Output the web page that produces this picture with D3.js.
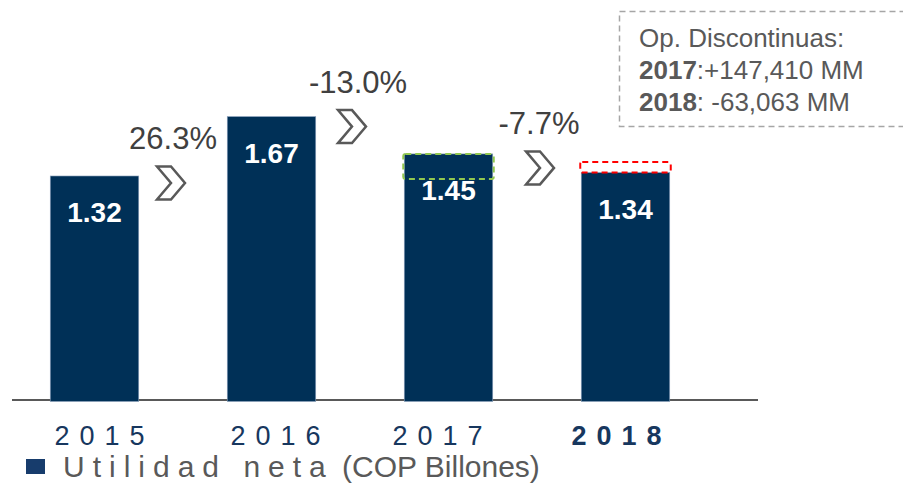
<!DOCTYPE html>
<html>
<head>
<meta charset="utf-8">
<script src="https://cdn.jsdelivr.net/npm/d3@7"></script>
<style>
  html, body { margin: 0; padding: 0; background: #ffffff; }
  svg { display: block; font-family: "Liberation Sans", Arial, Helvetica, sans-serif; }
</style>
</head>
<body>
<svg id="chart" width="903" height="492"></svg>
<script>
// ---- data ----
const years = ["2015", "2016", "2017", "2018"];
const netIncome = [1.32, 1.67, 1.45, 1.34];          // COP billones
const discontinued = [0, 0, 0.147410, -0.063063];     // Op. discontinuas (billones)
const growthLabels = ["26.3%", "-13.0%", "-7.7%"];
const boldYear = "2018";
const noteTitle = "Op. Discontinuas:";
const noteLines = [
  { year: "2017", text: ":+147,410 MM" },
  { year: "2018", text: ": -63,063 MM" }
];
const legendMain = "Utilidad neta";
const legendUnit = "(COP Billones)";

// ---- layout (not data) ----
const chevronDx = [-12, -8, 3];
const chevronDy = [7, 10, 14];
const growthDx = [-10, -2, 2];
const yearDx = [10, 9, -6, -4];

const svg = d3.select("#chart");
const baseY = 400;

const x = d3.scaleBand().domain(years).range([6, 714]).paddingInner(0.5).paddingOuter(0.25);
const y = d3.scaleLinear().domain([0, 2.357]).range([baseY, 0]);

// axis line
svg.append("line")
  .attr("x1", 12).attr("x2", 758)
  .attr("y1", baseY).attr("y2", baseY)
  .attr("stroke", "#595959").attr("stroke-width", 2);

// bars
svg.selectAll("rect.bar").data(years).enter().append("rect")
  .attr("class", "bar")
  .attr("x", d => x(d))
  .attr("width", x.bandwidth())
  .attr("y", (d, i) => y(netIncome[i]))
  .attr("height", (d, i) => y(0) - y(netIncome[i]) + 1.5)
  .attr("fill", "#003057")
  .attr("stroke", "#8ea3bd").attr("stroke-width", 0.6);

// discontinued operations boxes
years.forEach((yr, i) => {
  const dv = discontinued[i];
  if (!dv) return;
  let top, bot;
  if (dv > 0) { top = y(netIncome[i]); bot = y(netIncome[i] - dv); }
  else { top = y(netIncome[i] - dv); bot = y(netIncome[i]); }
  svg.append("rect")
    .attr("x", x(yr) - 1)
    .attr("y", top)
    .attr("width", x.bandwidth() + 2)
    .attr("height", bot - top)
    .attr("rx", 2)
    .attr("fill", "none")
    .attr("stroke", dv > 0 ? "#92c84f" : "#ff0000")
    .attr("stroke-width", 2)
    .attr("stroke-dasharray", "6,4");
});

// value labels
svg.selectAll("text.val").data(years).enter().append("text")
  .attr("class", "val")
  .attr("x", d => x(d) + x.bandwidth() / 2)
  .attr("y", (d, i) => y(netIncome[i]) + 46)
  .attr("text-anchor", "middle")
  .attr("fill", "#ffffff")
  .attr("font-weight", "bold")
  .attr("font-size", 28)
  .text((d, i) => netIncome[i].toFixed(2));

// chevrons and growth labels
const cw = 28, ch = 33;
growthLabels.forEach((g, i) => {
  const midX = (x(years[i]) + x.bandwidth() + x(years[i + 1])) / 2;
  const cx = midX + chevronDx[i];
  const cy = y(netIncome[i]) + chevronDy[i];
  const x0 = cx - cw / 2, y0 = cy - ch / 2;
  const pts = [[0, 0], [14, 0], [28, 16.5], [14, 33], [0, 33], [14, 16.5]]
    .map(p => [x0 + p[0], y0 + p[1]]);
  svg.append("path")
    .attr("d", d3.line()(pts) + "Z")
    .attr("fill", "#ffffff")
    .attr("stroke", "#595959")
    .attr("stroke-width", 2.5)
    .attr("stroke-linejoin", "miter");
  svg.append("text")
    .attr("x", midX + growthDx[i])
    .attr("y", cy - 34)
    .attr("text-anchor", "middle")
    .attr("fill", "#404040")
    .attr("font-size", 31)
    .text(g);
});

// year labels
svg.selectAll("text.yr").data(years).enter().append("text")
  .attr("class", "yr")
  .attr("x", (d, i) => x(d) + x.bandwidth() / 2 + yearDx[i])
  .attr("y", 444.5)
  .attr("text-anchor", "middle")
  .attr("fill", "#17375e")
  .attr("font-size", 27)
  .attr("letter-spacing", 10)
  .attr("font-weight", d => d === boldYear ? "bold" : "normal")
  .text(d => d);

// note box
svg.append("rect")
  .attr("x", 619.5).attr("y", 11.5)
  .attr("width", 320).attr("height", 115)
  .attr("fill", "none")
  .attr("stroke", "#a6a6a6")
  .attr("stroke-width", 1.5)
  .attr("stroke-dasharray", "6,4");

svg.append("text")
  .attr("x", 639).attr("y", 47)
  .attr("fill", "#595959").attr("font-size", 26)
  .text(noteTitle);
noteLines.forEach((ln, i) => {
  const t = svg.append("text")
    .attr("x", 639).attr("y", 79 + i * 31.5)
    .attr("fill", "#595959").attr("font-size", 26);
  t.append("tspan").attr("font-weight", "bold").text(ln.year);
  t.append("tspan").text(ln.text);
});

// legend
svg.append("rect")
  .attr("x", 26).attr("y", 459)
  .attr("width", 19).attr("height", 15)
  .attr("fill", "#173c6c");
svg.append("text")
  .attr("x", 63).attr("y", 477)
  .attr("fill", "#595959").attr("font-size", 30)
  .attr("letter-spacing", 8)
  .text(legendMain);
svg.append("text")
  .attr("x", 342).attr("y", 477)
  .attr("fill", "#595959").attr("font-size", 30)
  .text(legendUnit);
</script>
</body>
</html>
